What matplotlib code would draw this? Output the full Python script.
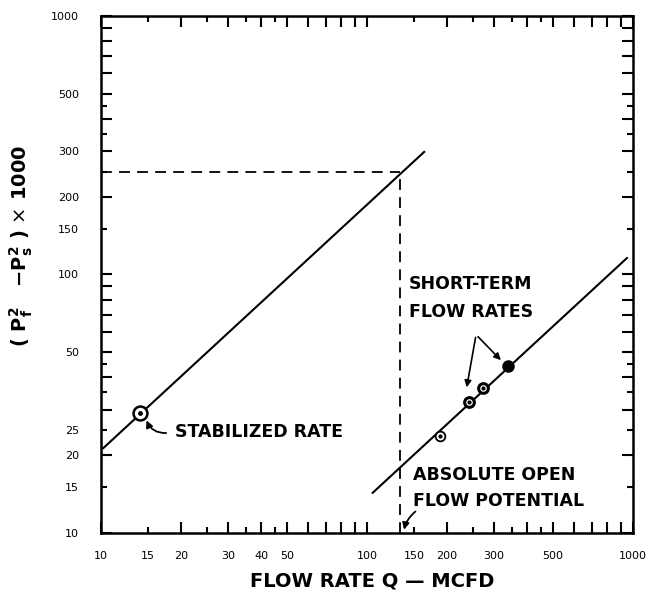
import matplotlib
matplotlib.use('Agg')
import matplotlib.pyplot as plt
from matplotlib.ticker import FixedLocator, FuncFormatter

# Back-pressure test data (Q in MCFD, delta P^2 x 1000)
stab_line_q = [10.2, 164]
stab_line_p = [21.3, 298]
stab_q = [14.0]
stab_p = [29.0]

short_line_q = [105, 949]
short_line_p = [14.3, 115.8]
short_q = [188, 242, 273]
short_p = [23.7, 32.1, 36.4]
short_filled_q = [339]
short_filled_p = [44.3]

aof_q = 133
aof_p = 250

x_labels = [10, 15, 20, 30, 40, 50, 100, 150, 200, 300, 500, 1000]
y_labels = [10, 15, 20, 25, 50, 100, 150, 200, 300, 500, 1000]

fig = plt.figure(figsize=(6.53, 5.93), dpi=100)
ax = fig.add_axes([0.1547, 0.1012, 0.8147, 0.8718])
ax.set_xscale('log')
ax.set_yscale('log')
ax.set_xlim(10, 1000)
ax.set_ylim(10, 1000)

# Deliverability lines
ax.plot(stab_line_q, stab_line_p, color='black', lw=1.5)
ax.plot(short_line_q, short_line_p, color='black', lw=1.5)

# AOF construction lines
ax.plot([10, aof_q], [aof_p, aof_p], color='black', lw=1.3, dashes=(6, 4))
ax.plot([aof_q, aof_q], [10, aof_p], color='black', lw=1.3, dashes=(6, 4))

# Test points
ax.plot(stab_q, stab_p, 'o', ms=10, mfc='white', mec='black', mew=1.8)
ax.plot(stab_q, stab_p, 'o', ms=2.5, color='black')
ax.plot(short_q[:1], short_p[:1], 'o', ms=7, mfc='white', mec='black', mew=1.3)
ax.plot(short_q[1:], short_p[1:], 'o', ms=7, mfc='white', mec='black', mew=2.2)
ax.plot(short_q, short_p, 'o', ms=2, color='black')
ax.plot(short_filled_q, short_filled_p, 'o', ms=8, color='black')

# Ticks
majors = [m * 10 ** d for d in (1, 2) for m in range(1, 10)] + [1000]
minors = [m * 10 ** d for d in (1, 2) for m in (1.5, 2.5, 3.5, 4.5)]


def make_fmt(labels):
    return FuncFormatter(lambda v, pos: '%d' % round(v) if round(v) in labels else '')


for axis, labels in ((ax.xaxis, x_labels), (ax.yaxis, y_labels)):
    axis.set_major_locator(FixedLocator(majors))
    axis.set_minor_locator(FixedLocator(minors))
    axis.set_major_formatter(make_fmt(labels))
    axis.set_minor_formatter(make_fmt(labels))

ax.tick_params(which='both', direction='in', top=True, right=True,
               width=1.5, labelsize=8)
ax.tick_params(which='major', length=8)
ax.tick_params(which='minor', length=4)
ax.tick_params(axis='x', which='both', pad=13)
ax.tick_params(axis='y', which='both', pad=16)
for sp in ax.spines.values():
    sp.set_linewidth(1.8)

bold = dict(fontsize=12.5, fontweight='bold', family='DejaVu Sans')

ax.text(19.0, 24.6, 'STABILIZED RATE', ha='left', va='center', **bold)
ax.annotate('', xy=(14.7, 27.9), xytext=(18.0, 24.4),
            arrowprops=dict(arrowstyle='-|>', color='black', lw=1.3,
                            mutation_scale=10,
                            connectionstyle='arc3,rad=-0.4'))

ax.text(144, 92, 'SHORT-TERM', ha='left', va='center', **bold)
ax.text(144, 71.6, 'FLOW RATES', ha='left', va='center', **bold)
for tq, tp in ((236, 35.7), (324, 45.8)):
    ax.annotate('', xy=(tq, tp), xytext=(257, 58.5),
                arrowprops=dict(arrowstyle='-|>', color='black', lw=1.2,
                                mutation_scale=10))

ax.text(149, 16.7, 'ABSOLUTE OPEN', ha='left', va='center', **bold)
ax.text(149, 13.3, 'FLOW POTENTIAL', ha='left', va='center', **bold)
ax.annotate('', xy=(137, 10.05), xytext=(155, 12.3),
            arrowprops=dict(arrowstyle='-|>', color='black', lw=1.3,
                            mutation_scale=10,
                            connectionstyle='arc3,rad=0.2'))

fig.text(0.57, 0.02, 'FLOW RATE Q \u2014 MCFD', ha='center', va='center',
         fontsize=14, fontweight='bold')
fig.text(0.032, 0.585, r'( $\mathbf{P_f^2}$   $\mathbf{-P_s^2}$ ) $\times$ 1000',
         rotation=90, ha='center', va='center', fontsize=14, fontweight='bold')

fig.savefig('out.png', dpi=100)
